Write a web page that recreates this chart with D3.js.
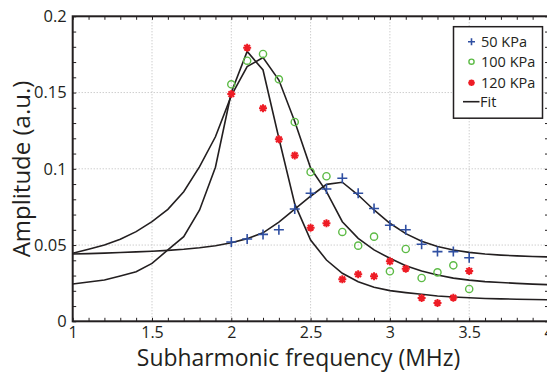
<!DOCTYPE html>
<html>
<head>
<meta charset="utf-8">
<script src="https://cdn.jsdelivr.net/npm/d3@7"></script>
<style>
  body { margin: 0; background: #fff; }
  text { font-family: "Open Sans", "Noto Sans", sans-serif; fill: #231f20; }
</style>
</head>
<body>
<svg id="chart"></svg>
<script>
// measured points
const freq = [2.0, 2.1, 2.2, 2.3, 2.4, 2.5, 2.6, 2.7, 2.8, 2.9, 3.0, 3.1, 3.2, 3.3, 3.4, 3.5];
const amp50 = [0.052, 0.054, 0.057, 0.060, 0.0736, 0.084, 0.0868, 0.0938, 0.084, 0.074, 0.063, 0.060, 0.0505, 0.0457, 0.0457, 0.0417];
const amp100 = [0.1554, 0.1709, 0.1753, 0.1587, 0.1307, 0.0979, 0.0951, 0.0586, 0.0496, 0.0555, 0.0328, 0.0474, 0.0284, 0.0321, 0.0367, 0.0212];
const amp120 = [0.149, 0.1794, 0.1397, 0.1193, 0.1088, 0.0614, 0.0643, 0.0275, 0.0308, 0.0295, 0.0393, 0.0345, 0.0153, 0.012, 0.0155, 0.033];

// fitted curves
const fitFreq = [1.0, 1.1, 1.2, 1.3, 1.4, 1.5, 1.6, 1.7, 1.8, 1.9, 2.0, 2.1, 2.2, 2.3, 2.4, 2.5,
                 2.6, 2.7, 2.8, 2.9, 3.0, 3.1, 3.2, 3.3, 3.4, 3.5, 3.6, 3.7, 3.8, 3.9, 4.0];
const fit50 = [0.0441, 0.0444, 0.0447, 0.0451, 0.0455, 0.0459, 0.0465, 0.0472, 0.0482, 0.0495, 0.0515,
               0.0542, 0.0580, 0.0650, 0.0735, 0.0820, 0.0898, 0.0912, 0.0828, 0.0730, 0.0643,
               0.0575, 0.0525, 0.0490, 0.0468, 0.0452, 0.0441, 0.0434, 0.0429, 0.0425, 0.0422];
const fit100 = [0.0446, 0.0472, 0.0500, 0.0538, 0.0588, 0.0653, 0.0734, 0.0850, 0.1014, 0.1210, 0.1480,
                0.1670, 0.1729, 0.1582, 0.1310, 0.1005, 0.0850, 0.0653, 0.0544, 0.0468, 0.0413,
                0.0365, 0.0330, 0.0303, 0.0283, 0.0270, 0.0260, 0.0254, 0.0249, 0.0244, 0.0240];
const fit120 = [0.0245, 0.0258, 0.0271, 0.0297, 0.0325, 0.0380, 0.0468, 0.0555, 0.0730, 0.1010, 0.1500,
                0.1770, 0.1648, 0.1200, 0.0770, 0.0533, 0.0402, 0.0315, 0.0260, 0.0223, 0.0201,
                0.0188, 0.0177, 0.0166, 0.0159, 0.0154, 0.0150, 0.0147, 0.0145, 0.0143, 0.0141];

const xTicks = [1, 1.5, 2, 2.5, 3, 3.5, 4];
const yTicks = [0, 0.05, 0.1, 0.15, 0.2];
const legendLabels = ['50 KPa', '100 KPa', '120 KPa', 'Fit'];

const colors = { p50: '#2f4fa2', p100: '#5dbb46', p120: '#ee1c25' };

const config = {
  width: 547, height: 373,
  margin: { top: 16.3, left: 72.7, right: -1.5, bottom: 51.7 }
};

const innerW = config.width - config.margin.left - config.margin.right;
const innerH = config.height - config.margin.top - config.margin.bottom;

const svg = d3.select('#chart')
  .attr('width', config.width)
  .attr('height', config.height);

const chart = svg.append('g')
  .attr('transform', `translate(${config.margin.left},${config.margin.top})`);

const x = d3.scaleLinear().domain([1, 4]).range([0, innerW]);
const y = d3.scaleLinear().domain([0, 0.2]).range([innerH, 0]);

// dotted grid
chart.append('g').selectAll('line')
  .data(xTicks.slice(1, -1))
  .join('line')
  .attr('x1', d => x(d)).attr('x2', d => x(d))
  .attr('y1', 0).attr('y2', innerH)
  .attr('stroke', '#b8b8b8').attr('stroke-width', 1).attr('stroke-dasharray', '1,2');
chart.append('g').selectAll('line')
  .data(yTicks.slice(1, -1))
  .join('line')
  .attr('y1', d => y(d)).attr('y2', d => y(d))
  .attr('x1', 0).attr('x2', innerW)
  .attr('stroke', '#b8b8b8').attr('stroke-width', 1).attr('stroke-dasharray', '1,2');

// minor ticks on all sides
const xMinor = d3.range(10, 41).map(d => d / 10);
const yMinor = d3.range(0, 21).map(d => d / 100);
function minorAxis(axis, vals, transform) {
  const g = chart.append('g').attr('transform', transform)
    .call(axis.tickValues(vals).tickFormat('').tickSizeInner(-3.5).tickSizeOuter(0));
  g.select('.domain').remove();
  g.selectAll('line').attr('stroke', '#231f20').attr('stroke-width', 1);
}
minorAxis(d3.axisBottom(x), xMinor, `translate(0,${innerH})`);
minorAxis(d3.axisTop(x), xMinor, 'translate(0,0)');
minorAxis(d3.axisLeft(y), yMinor, 'translate(0,0)');
minorAxis(d3.axisRight(y), yMinor, `translate(${innerW},0)`);

// labelled axes
const xAxis = chart.append('g')
  .attr('transform', `translate(0,${innerH})`)
  .call(d3.axisBottom(x).tickValues(xTicks).tickFormat(d3.format('')).tickSizeInner(0).tickSizeOuter(0).tickPadding(4));
xAxis.select('.domain').remove();
xAxis.selectAll('text').attr('font-size', 16).attr('dy', '0.8em');

const yAxis = chart.append('g')
  .call(d3.axisLeft(y).tickValues(yTicks).tickFormat(d3.format('')).tickSizeInner(0).tickSizeOuter(0).tickPadding(6));
yAxis.select('.domain').remove();
yAxis.selectAll('text').attr('font-size', 16.5);

// frame
chart.append('rect')
  .attr('width', innerW).attr('height', innerH)
  .attr('fill', 'none').attr('stroke', '#231f20').attr('stroke-width', 2);

// fit lines
const line = d3.line().x(d => x(d[0])).y(d => y(d[1]));
[fit50, fit100, fit120].forEach(vals => {
  chart.append('path')
    .datum(fitFreq.map((f, i) => [f, vals[i]]))
    .attr('d', line)
    .attr('fill', 'none').attr('stroke', '#231f20').attr('stroke-width', 1.6);
});

// marker shapes
function plus(g, s, c) {
  g.append('path').attr('d', `M${-s},0H${s}M0,${-s}V${s}`)
    .attr('stroke', c).attr('stroke-width', 1.6).attr('fill', 'none');
}
function ring(g, r, c) {
  g.append('circle').attr('r', r).attr('fill', 'none').attr('stroke', c).attr('stroke-width', 1.4);
}
function star(g, s, c) {
  const d = s * Math.SQRT1_2;
  g.append('path')
    .attr('d', `M${-s},0H${s}M0,${-s}V${s}M${-d},${-d}L${d},${d}M${-d},${d}L${d},${-d}`)
    .attr('stroke', c).attr('stroke-width', 2).attr('fill', 'none');
}

function drawPoints(vals, draw) {
  chart.append('g').selectAll('g')
    .data(freq.map((f, i) => [f, vals[i]]))
    .join('g')
    .attr('transform', d => `translate(${x(d[0])},${y(d[1])})`)
    .each(function () { draw(d3.select(this)); });
}
drawPoints(amp50, g => plus(g, 5, colors.p50));
drawPoints(amp100, g => ring(g, 3.6, colors.p100));
drawPoints(amp120, g => star(g, 4, colors.p120));

// axis titles
svg.append('text')
  .attr('x', 298.5).attr('y', 366)
  .attr('text-anchor', 'middle').attr('font-size', 22.9)
  .text('Subharmonic frequency (MHz)');
svg.append('text')
  .attr('transform', 'translate(29.5,169) rotate(-90)')
  .attr('text-anchor', 'middle').attr('font-size', 24)
  .text('Amplitude (a.u.)');

// legend
const legend = svg.append('g').attr('transform', 'translate(453.5,26.7)');
legend.append('rect')
  .attr('width', 89).attr('height', 91.5)
  .attr('fill', '#fff').attr('stroke', '#231f20').attr('stroke-width', 1.5);
const rows = [15, 35, 56, 75];
legendLabels.forEach((lab, i) => {
  const g = legend.append('g').attr('transform', `translate(18,${rows[i]})`);
  if (i === 0) plus(g, 3.5, colors.p50);
  if (i === 1) ring(g, 2.6, colors.p100);
  if (i === 2) star(g, 3.3, colors.p120);
  if (i === 3) g.append('line').attr('x1', -8.5).attr('x2', 8).attr('stroke', '#231f20').attr('stroke-width', 1.6);
  g.append('text').attr('x', i === 3 ? 8.5 : 9.5).attr('dy', '0.35em')
    .attr('font-size', 14.5).text(lab);
});
</script>
</body>
</html>
